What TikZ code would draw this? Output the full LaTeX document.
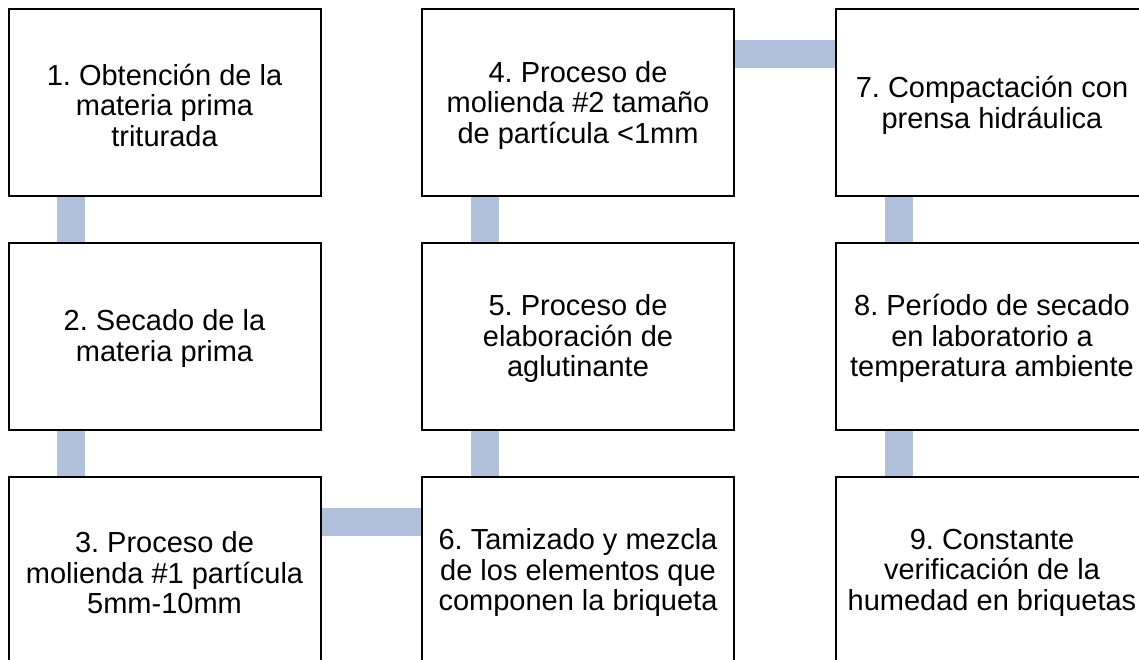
\documentclass[tikz,border=0pt]{standalone}
\usepackage{fontspec}
\setmainfont{Liberation Sans}
\usepackage{tikz}
\usetikzlibrary{positioning, calc, backgrounds}
\definecolor{colBar}{RGB}{177, 193, 220}
\frenchspacing

\begin{document}
\begin{tikzpicture}[x=1pt, y=-1pt,
    paso/.style={draw=black, line width=2pt, fill=white,
        minimum width=312pt, minimum height=186.5pt, inner sep=0pt},
    texto/.style={align=center, inner sep=0pt, yshift=-2.5pt,
        font=\fontsize{29}{30.5}\selectfont},
    barra/.style={draw=colBar, line width=28pt}]
    \useasboundingbox (0, 0) rectangle (1139, 660);
    \clip (0, 0) rectangle (1139, 660);

    % Columna 1
    \node[paso, label={[texto]center:1. Obtención de la\\materia prima\\triturada}] (p1) at (164.5, 102.75) {};
    \node[paso, label={[texto]center:2. Secado de la\\materia prima}] (p2) at (164.5, 336.25) {};
    \node[paso, label={[texto]center:3. Proceso de\\molienda \#1 partícula\\5mm-10mm}] (p3) at (164.5, 570.25) {};

    % Columna 2
    \node[paso, label={[texto]center:4. Proceso de\\molienda \#2 tamaño\\de partícula <1mm}] (p4) at (578, 102.75) {};
    \node[paso, label={[texto]center:5. Proceso de\\elaboración de\\aglutinante}] (p5) at (578, 336.25) {};
    \node[paso, label={[texto]center:6. Tamizado y mezcla\\de los elementos que\\componen la briqueta}] (p6) at (578, 570.25) {};

    % Columna 3
    \node[paso, label={[texto]center:7. Compactación con\\prensa hidráulica}] (p7) at (992, 102.75) {};
    \node[paso, label={[texto]center:8. Período de secado\\en laboratorio a\\temperatura ambiente}] (p8) at (992, 336.25) {};
    \node[paso, label={[texto]center:9. Constante\\verificación de la\\humedad en briquetas}] (p9) at (992, 570.25) {};

    % Barras de union (detras de las cajas)
    \begin{scope}[on background layer]
        \foreach \a/\b in {p1/p2, p2/p3, p4/p5, p5/p6, p7/p8, p8/p9} {
            \draw[barra] ([xshift=63.5pt]\a.south west) -- ([xshift=63.5pt]\b.north west);
        }
        \draw[barra] ([yshift=-45.5pt]p3.north east) -- ([yshift=-45.5pt]p6.north west);
        \draw[barra] ([yshift=-45.5pt]p4.north east) -- ([yshift=-45.5pt]p7.north west);
    \end{scope}
\end{tikzpicture}
\end{document}
